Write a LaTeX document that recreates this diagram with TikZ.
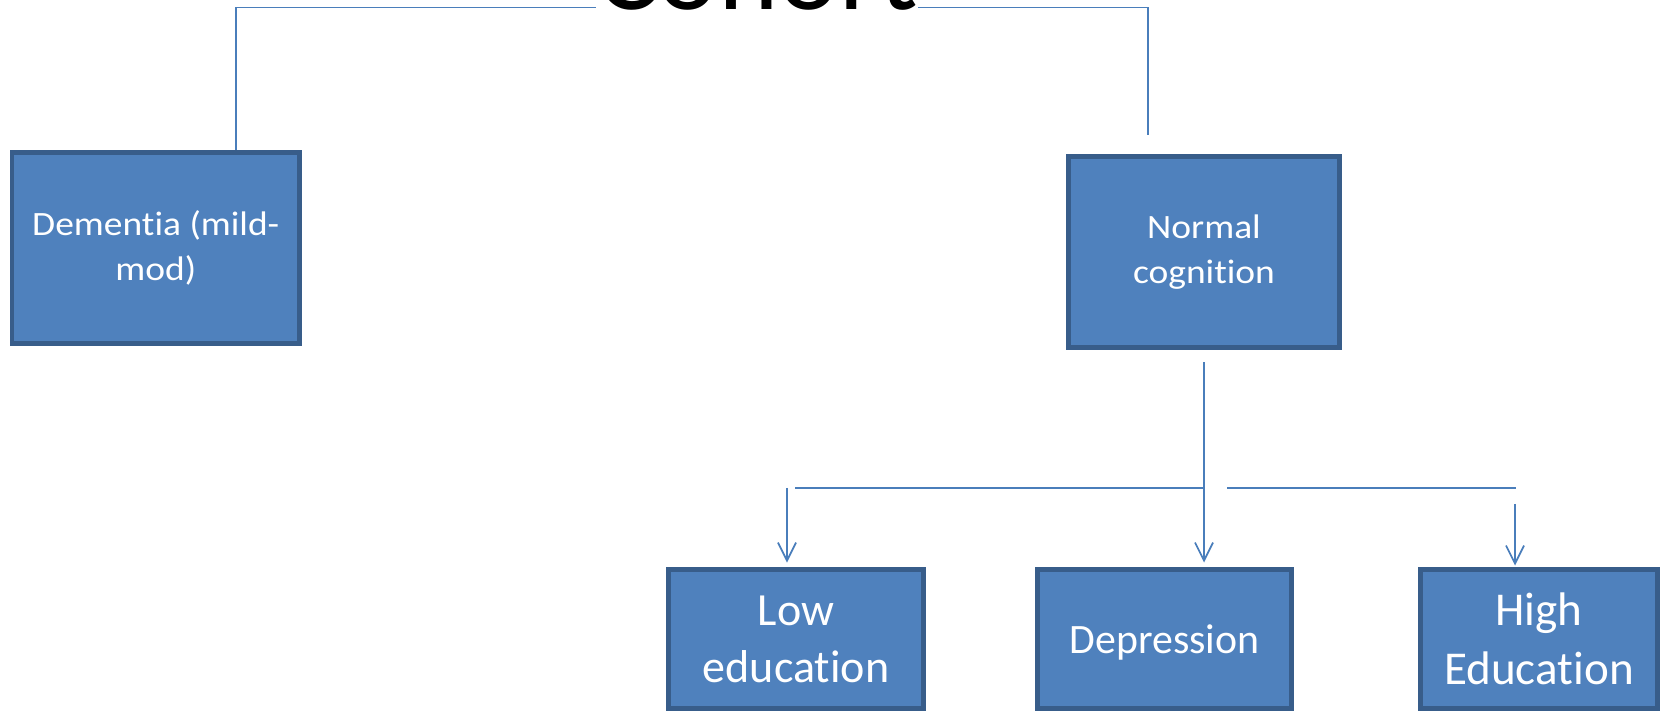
\documentclass[tikz,border=0pt]{standalone}
\usepackage{fontspec}
\setmainfont{Carlito}[Ligatures=NoCommon]
\newfontfamily\widefont{Carlito}[FakeStretch=1.1, Ligatures=NoCommon]
\usepackage{xcolor}
\definecolor{boxfill}{RGB}{79,129,189}
\definecolor{boxedge}{RGB}{56,93,138}
\definecolor{linkblue}{RGB}{74,126,187}
\usetikzlibrary{arrows.meta}

\begin{document}
\begin{tikzpicture}[
    group/.style={rectangle, draw=boxedge, fill=boxfill, line width=1.4pt, text=white, align=center, minimum height=1.91cm, font=\widefont\fontsize{9.7pt}{12.8pt}\selectfont},
    subgroup/.style={group, minimum height=1.39cm, font=\normalfont\fontsize{13.1pt}{16.2pt}\selectfont},
    link/.style={draw=linkblue, line width=0.5pt},
    arrow/.style={link, -{Straight Barb[length=1.8mm, width=1.8mm]}, shorten >=0.45mm}
]
\path[use as bounding box, clip] (0,0) rectangle (16.6,7.11);

% Root (cut off at the top)
\node[fill=white, inner sep=0pt, anchor=base, font=\fontsize{32.7pt}{36pt}\selectfont] (cohort) at (7.57,7.015) {Cohort};

% First level
\node[group, minimum width=2.875cm] (dementia) at (1.5575,4.63) {Dementia (mild-\\mod)};
\node[group, minimum width=2.71cm] (normal) at (12.04,4.59) {Normal\\cognition};

% Second level
\node[subgroup, minimum width=2.55cm] (low) at (7.96,0.72) {Low\\education};
\node[subgroup, minimum width=2.54cm, text depth=0pt, font=\normalfont\fontsize{11.9pt}{14.5pt}\selectfont] (depr) at (11.645,0.72) {Depression};
\node[subgroup, minimum width=2.37cm, font=\normalfont\fontsize{13.4pt}{16.8pt}\selectfont] (high) at (15.39,0.72) {High\\Education};

% Free ends of the connectors
\coordinate (demdrop) at (2.36,7.035);
\coordinate (normdrop) at (11.48,5.755);
\coordinate (split) at (12.04,2.23);
\coordinate (lowbar) at (7.95,2.23);
\coordinate (lowdrop) at (7.87,2.23);
\coordinate (highbar) at (12.27,2.23);
\coordinate (highend) at (15.16,2.23);
\coordinate (highdrop) at (15.15,2.07);

% Connectors from the root
\draw[link] (dementia.north -| demdrop) |- ([yshift=0.2mm]cohort.base west);
\draw[link] ([yshift=0.2mm]cohort.base east) -| (normdrop);

% Connectors from normal cognition
\draw[arrow, shorten <=1.25mm] (normal.south) -- (normal.south |- depr.north);
\draw[link] (split) -- (lowbar);
\draw[arrow] (lowdrop) -- (lowdrop |- low.north);
\draw[link] (highbar) -- (highend);
\draw[arrow, shorten >=0.15mm] (highdrop) -- (highdrop |- high.north);
\end{tikzpicture}
\end{document}
